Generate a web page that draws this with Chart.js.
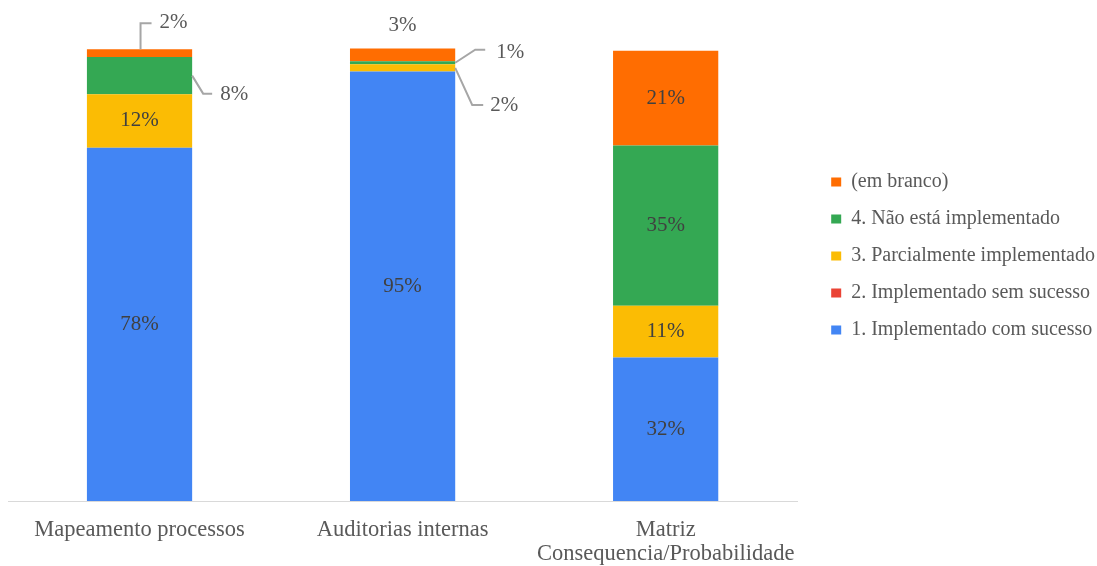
<!DOCTYPE html>
<html lang="pt">
  <head>
    <meta charset="UTF-8" />
    <title>Implementação de práticas</title>
    <style>
      html, body { margin: 0; padding: 0; background: #fff; }
      #wrap { width: 1097px; height: 566px; }
    </style>
  </head>
  <body>
    <div id="wrap"><canvas id="chart"></canvas></div>
    <script src="https://cdn.jsdelivr.net/npm/chart.js@4/dist/chart.umd.min.js"></script>
    <script>
      const categories = [
        "Mapeamento processos",
        "Auditorias internas",
        ["Matriz", "Consequencia/Probabilidade"],
      ];
      const comSucesso = [78.0, 94.8, 31.7];
      const semSucesso = [0, 0, 0];
      const parcial = [11.8, 1.6, 11.4];
      const naoImplementado = [8.2, 0.7, 35.4];
      const emBranco = [1.7, 2.8, 20.9];

      const serif = "'Liberation Serif', 'Times New Roman', serif";

      // labels outside the bars, offsets from the segment edge
      const callouts = {
        "4,0": { at: "top", path: [[1, 0], [1, -26], [12, -26]], text: [20, -27] },
        "3,0": { at: "right", path: [[0, 0], [11, 18], [20, 18]], text: [28, 19] },
        "3,1": { at: "right", path: [[0, 0], [20, -13], [30, -13]], text: [41, -10] },
        "2,1": { at: "right", path: [[0, 0], [17, 37], [28, 37]], text: [35, 38] },
        "4,1": { at: "top", path: null, text: [0, -23], align: "center" },
      };

      const segLabels = {
        id: "segLabels",
        afterDatasetsDraw(chart) {
          const ctx = chart.ctx;
          ctx.save();
          ctx.font = "21px " + serif;
          ctx.textBaseline = "middle";
          chart.data.datasets.forEach(function (ds, di) {
            const meta = chart.getDatasetMeta(di);
            meta.data.forEach(function (bar, i) {
              const v = ds.data[i];
              if (!v) return;
              const text = Math.round(v) + "%";
              const c = callouts[di + "," + i];
              if (!c) {
                ctx.fillStyle = "#404040";
                ctx.textAlign = "center";
                ctx.fillText(text, bar.x, (bar.y + bar.base) / 2);
                return;
              }
              let ax, ay;
              if (c.at === "top") {
                ax = bar.x;
                ay = bar.y;
              } else {
                ax = bar.x + bar.width / 2;
                ay = (bar.y + bar.base) / 2;
              }
              if (c.path) {
                ctx.strokeStyle = "#a6a6a6";
                ctx.lineWidth = 2;
                ctx.beginPath();
                c.path.forEach(function (p, k) {
                  if (k === 0) ctx.moveTo(ax + p[0], ay + p[1]);
                  else ctx.lineTo(ax + p[0], ay + p[1]);
                });
                ctx.stroke();
              }
              ctx.fillStyle = "#595959";
              ctx.textAlign = c.align || "left";
              ctx.fillText(text, ax + c.text[0], ay + c.text[1]);
            });
          });
          ctx.restore();
        },
      };

      const chartData = {
        labels: categories,
        datasets: [
          { label: "1. Implementado com sucesso", data: comSucesso, backgroundColor: "#4285F4" },
          { label: "2. Implementado sem sucesso", data: semSucesso, backgroundColor: "#EA4335" },
          { label: "3. Parcialmente implementado", data: parcial, backgroundColor: "#FBBC04" },
          { label: "4. Não está implementado", data: naoImplementado, backgroundColor: "#34A853" },
          { label: "(em branco)", data: emBranco, backgroundColor: "#FF6D01" },
        ],
      };

      const config = {
        type: "bar",
        data: chartData,
        plugins: [segLabels],
        options: {
          responsive: true,
          maintainAspectRatio: false,
          animation: false,
          barPercentage: 0.4,
          categoryPercentage: 1,
          layout: { padding: { top: 48, left: 8, right: -8, bottom: 0 } },
          scales: {
            x: {
              stacked: true,
              grid: { display: false, drawTicks: false },
              border: { display: true, color: "#d9d9d9", width: 1 },
              ticks: {
                color: "#595959",
                padding: 17,
                maxRotation: 0,
                autoSkip: false,
                font: { family: serif, size: 22.5, lineHeight: 1.07 },
              },
              afterFit: function (scale) { scale.height = 65; },
            },
            y: {
              stacked: true,
              min: 0,
              max: 100,
              display: false,
              position: "right",
              afterFit: function (scale) { scale.width = 17; },
            },
          },
          plugins: {
            tooltip: { enabled: false },
            legend: {
              position: "right",
              align: "start",
              reverse: true,
              maxWidth: 320,
              title: { display: true, text: " ", font: { size: 10 }, padding: { top: 0, bottom: 95 } },
              labels: {
                boxWidth: 10,
                boxHeight: 9,
                padding: 17,
                color: "#595959",
                font: { family: serif, size: 20 },
              },
            },
          },
        },
      };

      new Chart(document.getElementById("chart"), config);
    </script>
  </body>
</html>
